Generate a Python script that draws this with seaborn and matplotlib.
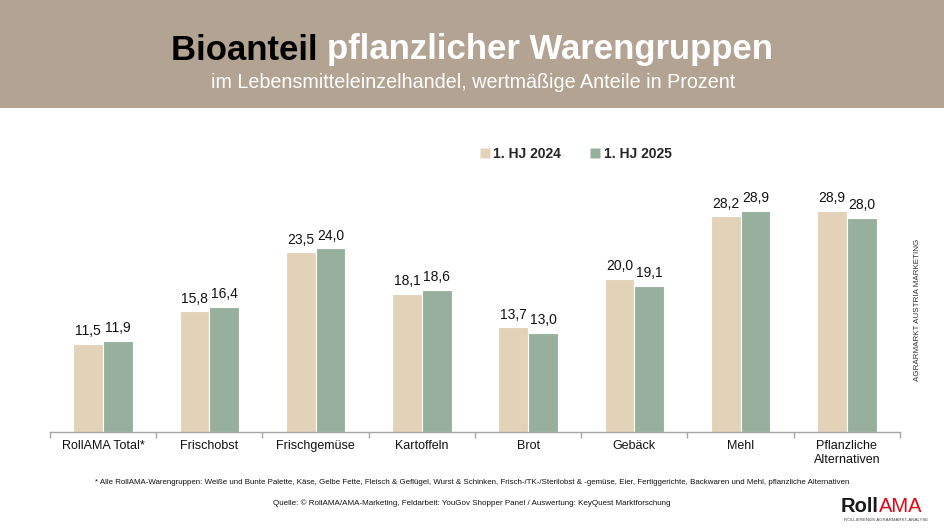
"""Bioanteil pflanzlicher Warengruppen - RollAMA 1. HJ 2024 vs 2025."""

import pandas as pd
import matplotlib
matplotlib.use("Agg")
import matplotlib.pyplot as plt
from matplotlib.lines import Line2D
from matplotlib.patches import Rectangle
import seaborn as sns

sns.set_theme(style="white")
plt.rcParams['font.family'] = ['Liberation Sans', 'DejaVu Sans']

# data
categories = ['RollAMA Total*', 'Frischobst', 'Frischgemüse', 'Kartoffeln',
              'Brot', 'Gebäck', 'Mehl', 'Pflanzliche\nAlternativen']
hj_2024 = [11.5, 15.8, 23.5, 18.1, 13.7, 20.0, 28.2, 28.9]
hj_2025 = [11.9, 16.4, 24.0, 18.6, 13.0, 19.1, 28.9, 28.0]
periods = ['1. HJ 2024', '1. HJ 2025']

col_2024 = '#e2d3b8'
col_2025 = '#97b09d'
header_col = '#b3a393'

df = pd.DataFrame({'Kategorie': categories,
                   periods[0]: hj_2024, periods[1]: hj_2025})
df = df.melt(id_vars='Kategorie', var_name='Periode', value_name='Anteil')

W, H = 945, 531
fig = plt.figure(figsize=(W / 100, H / 100), dpi=100)
fig.patch.set_facecolor('white')

# header band
fig.patches.append(Rectangle((0, 1 - 108 / H), 1, 108 / H,
                             transform=fig.transFigure,
                             facecolor=header_col, edgecolor='none', zorder=0))

ax = fig.add_axes([50 / W, (H - 432) / H, 850 / W, 257 / H])
sns.barplot(data=df, x='Kategorie', y='Anteil', hue='Periode',
            palette=[col_2024, col_2025], saturation=1, width=0.56, gap=0,
            edgecolor='white', linewidth=0.8, ax=ax, legend=False)

for cont in ax.containers:
    ax.bar_label(cont, labels=[f'{v:.1f}'.replace('.', ',') for v in cont.datavalues],
                 padding=4, fontsize=10, color='#111111')

ax.set_ylim(0, 33.6)
ax.set_xlim(-0.5, len(categories) - 0.5)
ax.set_xlabel('')
ax.set_ylabel('')
ax.set_yticks([])
for s in ['top', 'right', 'left']:
    ax.spines[s].set_visible(False)
ax.spines['bottom'].set_color('#a6a6a6')
ax.spines['bottom'].set_linewidth(1)
ax.tick_params(axis='x', which='major', length=0, labelsize=9, pad=6,
               labelcolor='#111111')
ax.set_xticks([i - 0.5 for i in range(len(categories) + 1)], minor=True)
ax.tick_params(axis='x', which='minor', length=4, color='#a6a6a6', width=1,
               direction='out', bottom=True)

# legend
handles = [Line2D([], [], marker='s', linestyle='', markersize=7,
                  markerfacecolor=c, markeredgecolor='none')
           for c in (col_2024, col_2025)]
fig.legend(handles, periods, loc='center', bbox_to_anchor=(576 / W, 1 - 154 / H),
           ncol=2, frameon=False, handlelength=0.6, handletextpad=0.3,
           columnspacing=2.2, prop={'weight': 'bold', 'size': 10})

# title, two colours, centred together
t1 = fig.text(0, 1 - 50 / H, 'Bioanteil ', fontsize=25, fontweight='bold',
              color='black', va='center', ha='left')
t2 = fig.text(0, 1 - 50 / H, 'pflanzlicher Warengruppen', fontsize=25,
              fontweight='bold', color='white', va='center', ha='left')
fig.canvas.draw()
r = fig.canvas.get_renderer()
w1 = t1.get_window_extent(r).width
w2 = t2.get_window_extent(r).width
x0 = (472 - (w1 + w2) / 2)
t1.set_x(x0 / W)
t2.set_x((x0 + w1) / W)

fig.text(473 / W, 1 - 82 / H,
         'im Lebensmitteleinzelhandel, wertmäßige Anteile in Prozent',
         fontsize=14.2, color='white', ha='center', va='center')

# side note
fig.text(918 / W, 1 - 310 / H, 'AGRARMARKT AUSTRIA MARKETING', rotation=90,
         fontsize=5.8, color='#333333', ha='center', va='center')

# footnotes
fig.text(472 / W, 1 - 483 / H,
         '* Alle RollAMA-Warengruppen: Weiße und Bunte Palette, Käse, Gelbe Fette, '
         'Fleisch & Geflügel, Wurst & Schinken, Frisch-/TK-/Sterilobst & -gemüse, '
         'Eier, Fertiggerichte, Backwaren und Mehl, pflanzliche Alternativen',
         fontsize=5.7, color='#111111', ha='center', va='center')
fig.text(472 / W, 1 - 503 / H,
         'Quelle: © RollAMA/AMA-Marketing, Feldarbeit: YouGov Shopper Panel / '
         'Auswertung: KeyQuest Marktforschung',
         fontsize=5.75, color='#111111', ha='center', va='center')

# logo
l1 = fig.text(841 / W, 1 - 506 / H, 'Roll', fontsize=14.5, fontweight='bold',
              color='#1a1a1a', ha='left', va='center')
fig.canvas.draw()
lw = l1.get_window_extent(fig.canvas.get_renderer()).width
fig.text((841 + lw) / W, 1 - 506 / H, 'AMA', fontsize=14.5, color='#e30613',
         ha='left', va='center')
fig.text(886 / W, 1 - 520 / H, 'ROLLIERENDE AGRARMARKT-ANALYSE', fontsize=3.2,
         color='#444444', ha='center', va='center')

fig.savefig('out.png', dpi=100)
